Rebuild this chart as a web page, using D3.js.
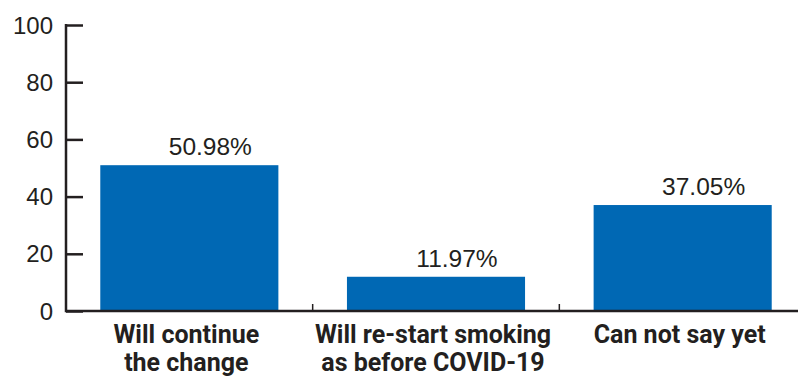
<!DOCTYPE html>
<html>
<head>
<meta charset="utf-8">
<script src="https://cdn.jsdelivr.net/npm/d3@7"></script>
<style>
  html, body { margin: 0; padding: 0; background: #fff; }
  svg { display: block; }
</style>
</head>
<body>
<div id="chart"></div>
<script>
(function () {
  'use strict';

  // ── Data ──
  var categories = ['continue', 'restart', 'cannot'];
  var categoryLines = [
    ['Will continue', 'the change'],
    ['Will re-start smoking', 'as before COVID-19'],
    ['Can not say yet']
  ];
  var values = [50.98, 11.97, 37.05];
  var valueLabels = ['50.98%', '11.97%', '37.05%'];
  var yTicks = [0, 20, 40, 60, 80, 100];

  // ── Style ──
  var WIDTH = 798;
  var HEIGHT = 376;
  var BAR_COLOR = '#0068b4';
  var INK = '#231f20';
  var AXIS_LEFT = 66;
  var AXIS_RIGHT = 806;
  var Y_TOP = 25;
  var Y_ZERO = 311;
  var FONT_NUM = '"Liberation Sans", Arial, sans-serif';
  var FONT_CAT = 'Roboto, "Liberation Sans", sans-serif';

  var svg = d3.select('#chart').append('svg')
    .attr('width', WIDTH)
    .attr('height', HEIGHT);

  var x = d3.scaleBand()
    .domain(categories)
    .range([AXIS_LEFT, AXIS_RIGHT])
    .paddingInner(0.278)
    .paddingOuter(0.139);

  var y = d3.scaleLinear()
    .domain([0, 100])
    .range([Y_ZERO, Y_TOP]);

  // ── Bars ──
  svg.append('g').selectAll('rect')
    .data(values)
    .join('rect')
    .attr('x', function (d, i) { return x(categories[i]); })
    .attr('y', function (d) { return y(d); })
    .attr('width', x.bandwidth())
    .attr('height', function (d) { return y(0) - y(d); })
    .attr('fill', BAR_COLOR);

  // ── Value labels ──
  svg.append('g').selectAll('text')
    .data(values)
    .join('text')
    .attr('x', function (d, i) { return x(categories[i]) + x.bandwidth() / 2 + 21; })
    .attr('y', function (d) { return y(d) - 10; })
    .attr('text-anchor', 'middle')
    .attr('font-family', FONT_NUM)
    .attr('font-size', '24.5px')
    .attr('fill', INK)
    .text(function (d, i) { return valueLabels[i]; });

  // ── Y axis ──
  var yAxis = svg.append('g')
    .attr('transform', 'translate(' + AXIS_LEFT + ',0)')
    .call(d3.axisRight(y).tickValues(yTicks).tickSize(17).tickFormat(''));
  yAxis.select('.domain').remove();
  yAxis.selectAll('.tick line').attr('stroke', INK).attr('stroke-width', 2.5);

  svg.append('line')
    .attr('x1', AXIS_LEFT).attr('x2', AXIS_LEFT)
    .attr('y1', y(100) - 1).attr('y2', y(0) + 1.25)
    .attr('stroke', INK).attr('stroke-width', 2.5);

  svg.append('g').selectAll('text')
    .data(yTicks)
    .join('text')
    .attr('x', AXIS_LEFT - 13)
    .attr('y', function (d) { return y(d); })
    .attr('dy', '0.36em')
    .attr('text-anchor', 'end')
    .attr('font-family', FONT_NUM)
    .attr('font-size', '24px')
    .attr('fill', INK)
    .text(function (d) { return d; });

  // ── X axis ──
  svg.append('line')
    .attr('x1', AXIS_LEFT).attr('x2', AXIS_RIGHT)
    .attr('y1', Y_ZERO).attr('y2', Y_ZERO)
    .attr('stroke', INK).attr('stroke-width', 2.5);

  // tick marks between categories
  svg.append('g').selectAll('line')
    .data(categories.slice(1))
    .join('line')
    .attr('x1', function (d) { return x(d) - x.step() * x.paddingInner() / 2; })
    .attr('x2', function (d) { return x(d) - x.step() * x.paddingInner() / 2; })
    .attr('y1', Y_ZERO).attr('y2', Y_ZERO - 7)
    .attr('stroke', INK).attr('stroke-width', 1.5);

  // category labels (second line runs to the bottom edge, as in the source)
  var catG = svg.append('g').selectAll('text')
    .data(categoryLines)
    .join('text')
    .attr('x', function (d, i) { return x(categories[i]) + x.bandwidth() / 2 - 3; })
    .attr('y', 343)
    .attr('text-anchor', 'middle')
    .attr('font-family', FONT_CAT)
    .attr('font-weight', 'bold')
    .attr('font-size', '25px')
    .attr('fill', INK);

  catG.selectAll('tspan')
    .data(function (d) { return d; })
    .join('tspan')
    .attr('x', function () { return d3.select(this.parentNode).attr('x'); })
    .attr('dy', function (d, i) { return i === 0 ? 0 : 28; })
    .text(function (d) { return d; });
})();
</script>
</body>
</html>
